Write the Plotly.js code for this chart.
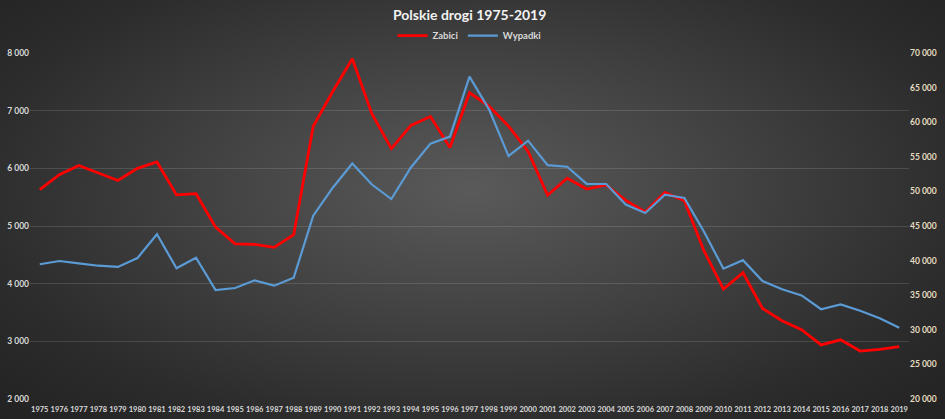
<!DOCTYPE html>
<html>
<head>
<meta charset="utf-8">
<script src="https://cdn.plot.ly/plotly-3.0.1.min.js"></script>
<style>
  html, body { margin: 0; padding: 0; }
  body {
    width: 945px; height: 419px; overflow: hidden;
    background: radial-gradient(ellipse at 50% 45%, #5a5a5a 0%, #454545 35%, #2c2c2c 75%, #222 100%);
  }
  #chart { width: 945px; height: 419px; }
</style>
</head>
<body>
<div id="chart"></div>
<script>
// lata 1975-2019
var years = [];
for (var y = 1975; y <= 2019; y++) years.push(String(y));

// liczba zabitych (lewa oś)
var zabici = [5630, 5890, 6050, 5920, 5790, 6000, 6110, 5540, 5560, 4980,
              4690, 4680, 4630, 4850, 6730, 7333, 7901, 6946, 6341, 6744,
              6900, 6359, 7310, 7080, 6730, 6294, 5534, 5827, 5640, 5712,
              5444, 5243, 5583, 5437, 4572, 3907, 4189, 3571, 3357, 3202,
              2938, 3026, 2831, 2862, 2909];

// liczba wypadków (prawa oś)
var wypadki = [39470, 39940, 39610, 39260, 39080, 40370, 43800, 38890, 40420, 35750,
               36040, 37150, 36380, 37530, 46490, 50530, 54038, 50990, 48901, 53454,
               56904, 57911, 66586, 61855, 55106, 57331, 53799, 53559, 51078, 51069,
               48100, 46876, 49536, 49054, 44196, 38832, 40065, 37046, 35847, 34970,
               32967, 33664, 32760, 31674, 30288];

var leftTicks = [2000, 3000, 4000, 5000, 6000, 7000, 8000];
var rightTicks = [20000, 25000, 30000, 35000, 40000, 45000, 50000, 55000, 60000, 65000, 70000];
function fmt(v) { return String(v).replace(/\B(?=(\d{3})+(?!\d))/g, ' '); }

var base = 'Lato, "Open Sans", sans-serif';

var traces = [
  {
    x: years, y: zabici, name: 'Zabici', type: 'scatter', mode: 'lines',
    line: { color: '#ff0000', width: 2.8 }
  },
  {
    x: years, y: wypadki, name: 'Wypadki', type: 'scatter', mode: 'lines', yaxis: 'y2',
    line: { color: '#5b9bd5', width: 2.2 }
  }
];

var layout = {
  width: 945, height: 419,
  paper_bgcolor: 'rgba(0,0,0,0)',
  plot_bgcolor: 'rgba(0,0,0,0)',
  margin: { t: 53, b: 20, l: 30, r: 36 },
  font: { family: base, color: '#d9d9d9', size: 9, weight: 'bold' },
  title: {
    text: '<b>Polskie drogi 1975-2019</b>',
    font: { size: 14, color: '#f2f2f2', family: base },
    x: 0.497, xanchor: 'center', y: 0.964, yanchor: 'middle'
  },
  showlegend: true,
  legend: {
    orientation: 'h', x: 0.5, xanchor: 'center', y: 1.05, yanchor: 'middle',
    font: { size: 9.5, color: '#d9d9d9', family: base, weight: 'bold' },
    bgcolor: 'rgba(0,0,0,0)', itemwidth: 30, tracegroupgap: 0
  },
  xaxis: {
    type: 'category', range: [-0.5, 44.5],
    showgrid: false, zeroline: false, showline: false,
    ticks: '', tickangle: 0, ticklabelstandoff: 4,
    tickfont: { size: 7.5, color: '#d9d9d9', family: base, weight: 'bold' }
  },
  yaxis: {
    range: [2000, 8000], tickvals: leftTicks, ticktext: leftTicks.map(fmt),
    showgrid: true, gridcolor: 'rgba(255,255,255,0.13)', gridwidth: 1,
    zeroline: false, showline: false, ticks: '',
    tickfont: { size: 8.5, color: '#d9d9d9', family: base, weight: 'bold' }
  },
  yaxis2: {
    overlaying: 'y', side: 'right',
    range: [20000, 70000], tickvals: rightTicks, ticktext: rightTicks.map(fmt),
    showgrid: false, zeroline: false, showline: false, ticks: '',
    tickfont: { size: 8.5, color: '#e6dcc0', family: base, weight: 'bold' }
  }
};

Plotly.newPlot('chart', traces, layout, { displayModeBar: false, staticPlot: true });
</script>
</body>
</html>
